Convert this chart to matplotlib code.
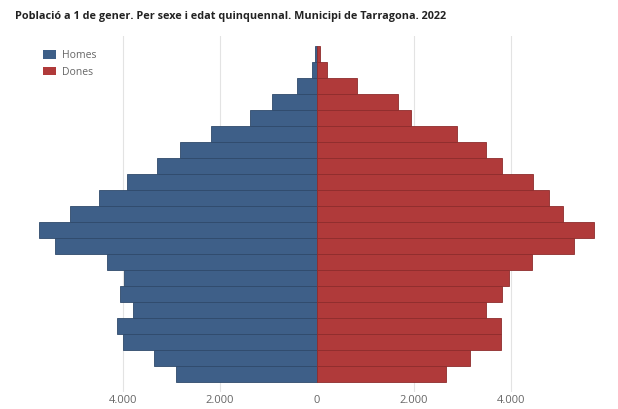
import matplotlib
matplotlib.use("Agg")
import matplotlib.pyplot as plt
from matplotlib.patches import Patch
from matplotlib.ticker import FuncFormatter

age_groups = ["0-4", "5-9", "10-14", "15-19", "20-24", "25-29", "30-34", "35-39",
              "40-44", "45-49", "50-54", "55-59", "60-64", "65-69", "70-74",
              "75-79", "80-84", "85-89", "90-94", "95-99", "100+"]
homes = [2900, 3350, 3990, 4120, 3780, 4060, 3970, 4330, 5400, 5720, 5085,
         4490, 3905, 3300, 2820, 2180, 1375, 930, 410, 100, 35]
dones = [2660, 3170, 3800, 3800, 3485, 3820, 3965, 4435, 5305, 5720, 5085,
         4795, 4455, 3815, 3485, 2895, 1945, 1685, 840, 220, 70]
xticks = [-4000, -2000, 0, 2000, 4000]

blue = "#3e5f88"
red = "#b03a3a"

plt.rcParams['font.family'] = ['Open Sans', 'DejaVu Sans']
fig = plt.figure(figsize=(6.18, 4.09), dpi=100)
ax = fig.add_axes([25.7/618, (409-392)/409, (607.7-25.7)/618, (392-36)/409])

y = list(range(len(age_groups)))
ax.barh(y, [-v for v in homes], height=1.0, color=blue, edgecolor="#2f4a6b", linewidth=0.6, zorder=3)
ax.barh(y, dones, height=1.0, color=red, edgecolor="#8e2c2c", linewidth=0.6, zorder=3)

ax.set_xlim(-6000, 6000)
ax.set_ylim(-1.125, 21.125)
ax.set_xticks(xticks)
ax.xaxis.set_major_formatter(FuncFormatter(lambda v, p: f"{abs(int(v)):,}".replace(",", ".")))
ax.set_yticks([])
ax.tick_params(axis='x', length=0, pad=2, labelsize=8, labelcolor="#666666")
for s in ax.spines.values():
    s.set_visible(False)
for xv in [-4000, -2000, 2000, 4000]:
    ax.axvline(xv, color="#e3e3e3", linewidth=0.8, zorder=1)

leg = ax.legend(handles=[Patch(facecolor=blue, label="Homes"), Patch(facecolor=red, label="Dones")],
                loc="upper left", bbox_to_anchor=(0.013, 0.986), frameon=False, fontsize=7.5,
                labelcolor="#666666", handlelength=1.3, handleheight=0.9, handletextpad=0.6,
                labelspacing=0.5)

fig.text(15/618, 1 - 17/409, "Població a 1 de gener. Per sexe i edat quinquennal. Municipi de Tarragona. 2022",
         fontsize=7.85, fontweight="bold", color="#222222", va="center", ha="left")

fig.savefig("out.png", dpi=100)
